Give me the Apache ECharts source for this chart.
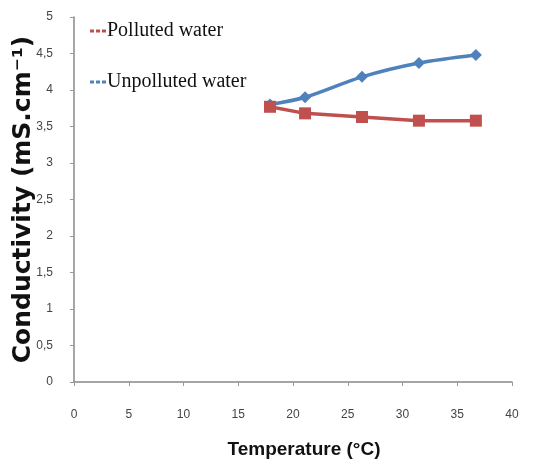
<!DOCTYPE html>
<html><head><meta charset="utf-8">
<script src="https://cdn.jsdelivr.net/npm/echarts@6/dist/echarts.min.js"></script>
<style>html,body{margin:0;padding:0;background:#fff}#c{width:544px;height:466px}</style>
</head><body><div id="c"></div>
<script>
const temperature = [17.9, 21.1, 26.3, 31.5, 36.7];
const polluted = [3.77, 3.68, 3.63, 3.58, 3.58];
const unpolluted = [3.80, 3.90, 4.18, 4.37, 4.48];
const seriesNames = ['Polluted water', 'Unpolluted water'];

const chart = echarts.init(document.getElementById('c'));
const dash = 'path://M0,0h4v3h-4z M6,0h4v3h-4z M12,0h4v3h-4z';
chart.setOption({
  animation: false,
  grid: {left: 74, right: 32, top: 17, bottom: 84, containLabel: false, outerBoundsMode: 'none'},
  legend: {
    orient: 'vertical', left: 85, top: 16, itemGap: 31,
    itemWidth: 16, itemHeight: 3,
    textStyle: {fontFamily: 'Liberation Serif', fontSize: 20, color: '#111', padding: [0,0,0,-4]},
    data: [{name: seriesNames[0], icon: dash}, {name: seriesNames[1], icon: dash}]
  },
  xAxis: {
    type: 'value', min: 0, max: 40, interval: 5,
    name: 'Temperature (°C)', nameLocation: 'middle', nameGap: 58, nameMoveOverlap: false,
    nameTextStyle: {fontFamily: 'Liberation Sans', fontWeight: 'bold', fontSize: 19, color: '#111', padding: [0,0,0,22]},
    axisLine: {lineStyle: {color: '#888', width: 1.5}},
    axisTick: {show: true, length: 4, inside: false, lineStyle: {color: '#999'}},
    axisLabel: {fontFamily: 'Liberation Sans', fontSize: 12, color: '#444', margin: 27},
    splitLine: {show: false}
  },
  yAxis: {
    type: 'value', min: 0, max: 5, interval: 0.5,
    name: 'Conductivity (mS.cm⁻¹)', nameLocation: 'middle', nameGap: 38, nameRotate: 90, nameMoveOverlap: false,
    nameTextStyle: {fontFamily: 'DejaVu Sans', fontWeight: 'bold', fontSize: 25, color: '#111'},
    axisLine: {show: true, lineStyle: {color: '#888', width: 1.5}},
    axisTick: {show: true, length: 4, lineStyle: {color: '#999'}},
    axisLabel: {fontFamily: 'Liberation Sans', fontSize: 12, color: '#444', margin: 21,
      formatter: v => String(v).replace('.', ',')},
    splitLine: {show: false}
  },
  series: [
    {
      name: seriesNames[1], type: 'line', smooth: 0.3, z: 2,
      data: temperature.map((t, i) => [t, unpolluted[i]]),
      color: '#4F81BD',
      lineStyle: {width: 3.5, color: '#4F81BD'},
      symbol: 'diamond', symbolSize: 12,
      itemStyle: {color: '#4F81BD'}
    },
    {
      name: seriesNames[0], type: 'line', z: 3,
      data: temperature.map((t, i) => [t, polluted[i]]),
      color: '#C0504D',
      lineStyle: {width: 3.5, color: '#C0504D'},
      symbol: 'rect', symbolSize: 12,
      itemStyle: {color: '#C0504D'}
    }
  ]
});
</script></body></html>
